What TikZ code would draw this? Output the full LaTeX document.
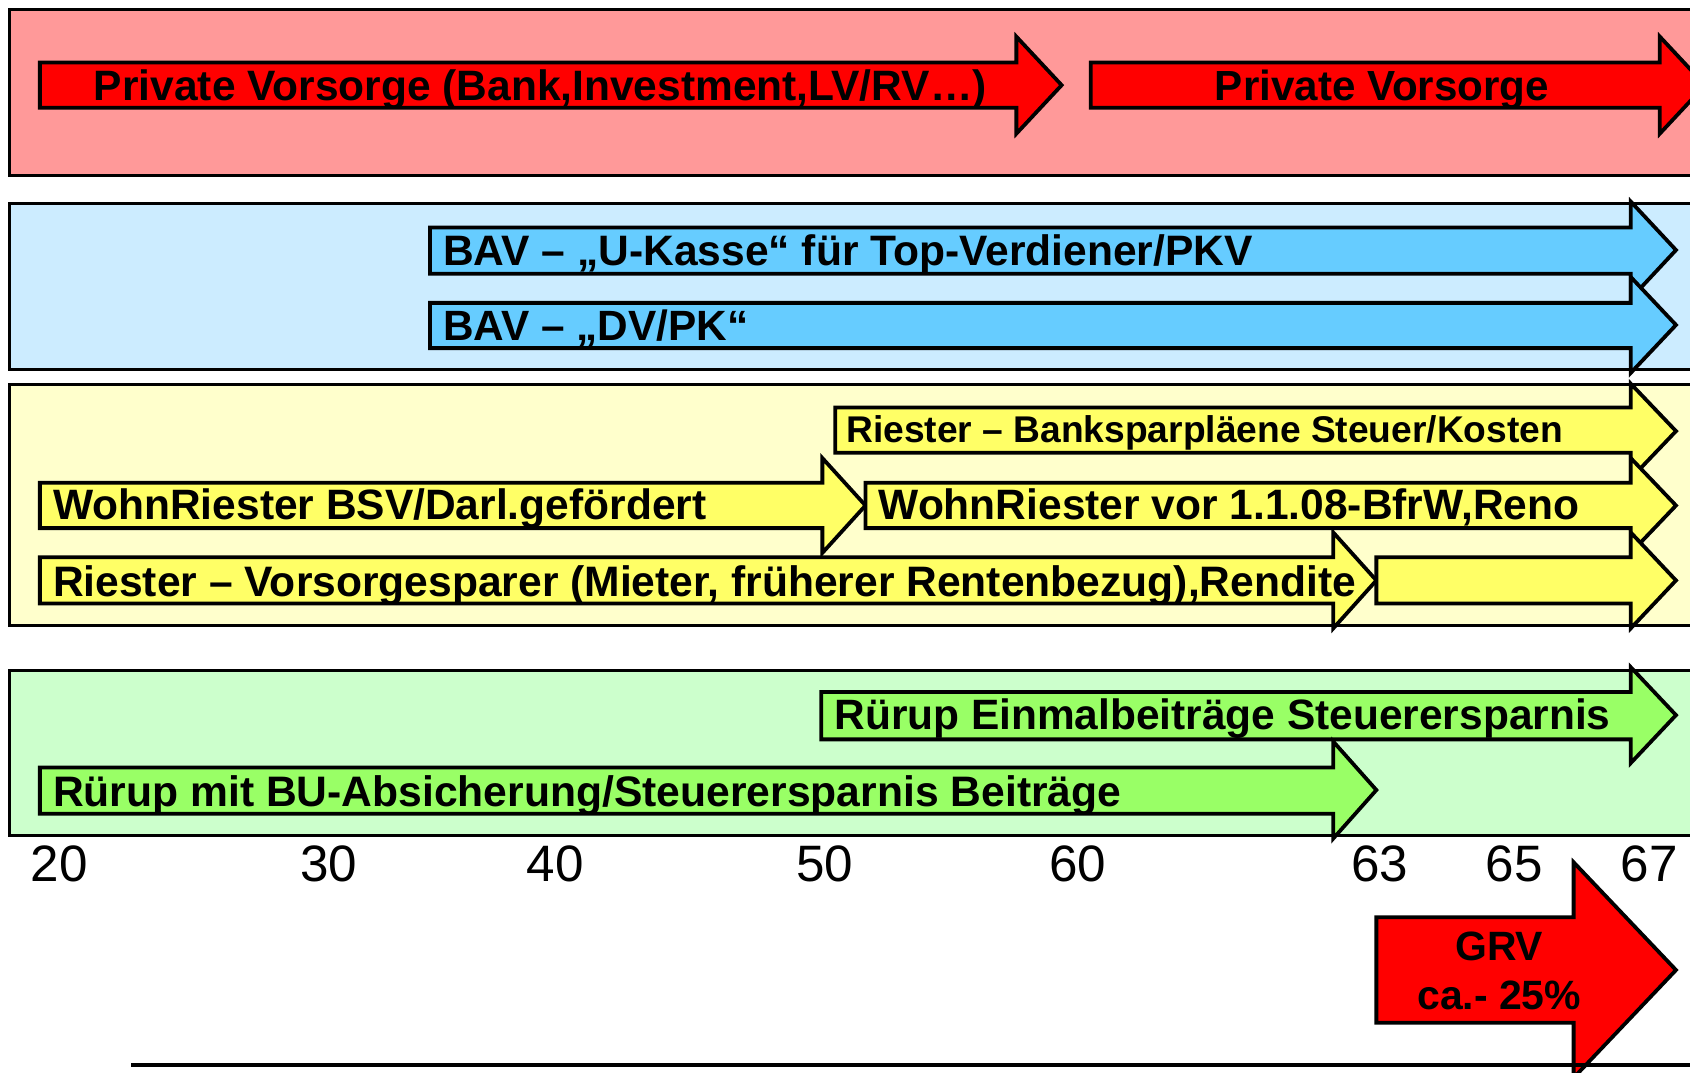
\documentclass[tikz,border=0pt]{standalone}
\usepackage{fontspec}
\setmainfont{Liberation Sans}
\usepackage{graphicx}
\definecolor{bandred}{HTML}{FF9999}
\definecolor{arrred}{HTML}{FF0000}
\definecolor{bandblue}{HTML}{CCECFF}
\definecolor{arrblue}{HTML}{66CCFF}
\definecolor{bandyellow}{HTML}{FFFFCC}
\definecolor{arryellow}{HTML}{FFFF66}
\definecolor{bandgreen}{HTML}{CCFFCC}
\definecolor{arrgreen}{HTML}{99FF66}
\tikzset{
  bandfill/.style={draw=none},
  bandline/.style={draw=black, line width=3pt},
  arr/.style={draw=black, line width=3.5pt, line join=miter, miter limit=10},
  lbl/.style={inner sep=0pt, anchor=base west, font=\bfseries},
  clbl/.style={inner sep=0pt, anchor=base, font=\bfseries},
  num/.style={inner sep=0pt, anchor=base, font=\fontsize{47.5}{50}\selectfont}
}
% colour, x0, xb, xt, shaft top, shaft bottom, head top, head bottom
\newcommand\harrow[8]{%
  \draw[arr, fill=#1] (#2,#5) -- (#3,#5) -- (#3,#7) -- (#4,{(#7+#8)/2}) -- (#3,#8) -- (#3,#6) -- (#2,#6) -- cycle;}
\newcommand\fitw[2]{\resizebox{#1pt}{!}{#2}}
\newcommand\band[3]{%
  \fill[#1] (9,#2) rectangle (1620,#3);}
\newcommand\bandborder[2]{%
  \draw[bandline] (1620,#1) -- (9,#1) -- (9,#2) -- (1620,#2);}
\begin{document}
\begin{tikzpicture}[x=1pt,y=-1pt]
\useasboundingbox (0,0) rectangle (1568,995);
\clip (0,0) rectangle (1568,995);
% red band
\band{bandred}{9}{163}
\harrow{arrred}{37}{943}{985}{58}{100}{34}{124}
\harrow{arrred}{1012}{1540}{1582}{58}{100}{34}{124}
\bandborder{9}{163}
% blue band
\band{bandblue}{189}{343}
\harrow{arrblue}{399}{1513}{1555}{211}{254}{187}{277}
\harrow{arrblue}{399}{1513}{1555}{281}{323}{257}{346}
\bandborder{189}{343}
% yellow band
\band{bandyellow}{357}{580}
\harrow{arryellow}{775}{1513}{1555}{378}{420}{356}{444}
\harrow{arryellow}{37}{763}{803}{448}{490}{425}{513}
\harrow{arryellow}{803}{1513}{1555}{448}{490}{425}{513}
\harrow{arryellow}{37}{1237}{1277}{517}{560}{494}{583}
\harrow{arryellow}{1277}{1513}{1555}{517}{560}{494}{583}
\bandborder{357}{580}
% green band
\band{bandgreen}{622}{775}
\harrow{arrgreen}{762}{1513}{1555}{642}{686}{619}{708}
\harrow{arrgreen}{37}{1237}{1277}{712}{755}{688}{778}
\bandborder{622}{775}
% GRV arrow
\harrow{arrred}{1277}{1460}{1555}{851}{949}{800}{1000}
% bottom line
\coordinate (lineA) at (122,988);
\coordinate (lineB) at (1568,988);
\draw[line width=3pt] (lineA) -- (lineB);
% labels
\node[lbl] (l1) at (87,93) {\fitw{828}{Private Vorsorge (Bank,Investment,LV/RV…)}};
\node[lbl] (l2) at (1127,93) {\fitw{310}{Private Vorsorge}};
\node[lbl] (l3) at (411,246) {\fitw{751}{BAV – „U-Kasse“ für Top-Verdiener/PKV}};
\node[lbl] (l4) at (411,316) {\fitw{283}{BAV – „DV/PK“}};
\node[lbl] (l5) at (785,411) {\fitw{665}{Riester – Banksparpläene Steuer/Kosten}};
\node[lbl] (l6) at (49,482) {\fitw{606}{WohnRiester BSV/Darl.gefördert}};
\node[lbl] (l7) at (815,482) {\fitw{650}{WohnRiester vor 1.1.08-BfrW,Reno}};
\node[lbl] (l8) at (49,553) {\fitw{1209}{Riester – Vorsorgesparer (Mieter, früherer Rentenbezug),Rendite}};
\node[lbl] (l9) at (774,677) {\fitw{720}{Rürup Einmalbeiträge Steuerersparnis}};
\node[lbl] (l10) at (49,748) {\fitw{991}{Rürup mit BU-Absicherung/Steuerersparnis Beiträge}};
% numbers
\node[num] (n20) at (55,818) {20};
\node[num] (n30) at (305,818) {30};
\node[num] (n40) at (515,818) {40};
\node[num] (n50) at (765,818) {50};
\node[num] (n60) at (1000,818) {60};
\node[num] (n63) at (1280,818) {63};
\node[num] (n65) at (1405,818) {65};
\node[num] (n67) at (1530,818) {67};
% GRV
\node[clbl, font=\bfseries\fontsize{38}{40}\selectfont] (grv) at (1391,891) {GRV};
\node[clbl, font=\bfseries\fontsize{38}{40}\selectfont] (ca) at (1391,937) {ca.- 25\%};
\end{tikzpicture}
\end{document}
